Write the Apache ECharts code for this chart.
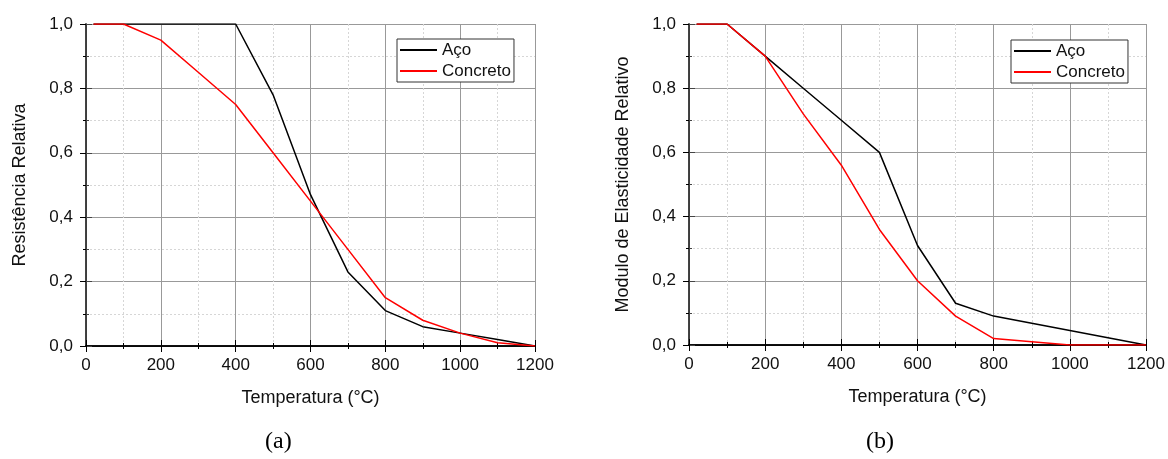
<!DOCTYPE html>
<html><head><meta charset="utf-8">
<script src="https://cdn.jsdelivr.net/npm/echarts@6/dist/echarts.min.js"></script>
<style>html,body{margin:0;padding:0;background:#fff}#c{width:1168px;height:459px}</style>
</head><body><div id="c"></div>
<script>
const temps = [20, 100, 200, 300, 400, 500, 600, 700, 800, 900, 1000, 1100, 1200];
const resAco = [1, 1, 1, 1, 1, 0.78, 0.47, 0.23, 0.11, 0.06, 0.04, 0.02, 0];
const resConcreto = [1, 1, 0.95, 0.85, 0.75, 0.60, 0.45, 0.30, 0.15, 0.08, 0.04, 0.01, 0];
const modAco = [1, 1, 0.9, 0.8, 0.7, 0.6, 0.31, 0.13, 0.09, 0.0675, 0.045, 0.0225, 0];
const modConcreto = [1, 1, 0.9, 0.72, 0.56, 0.36, 0.20, 0.09, 0.02, 0.01, 0, 0, 0];
const xTicks = [0, 200, 400, 600, 800, 1000, 1200];
const yTicks = ['0,0', '0,2', '0,4', '0,6', '0,8', '1,0'];
const seriesNames = ['Aço', 'Concreto'];
const yNames = ['Resistência Relativa', 'Modulo de Elasticidade Relativo'];
const xName = 'Temperatura (°C)';
const captions = ['(a)', '(b)'];

const FONT = 'Liberation Sans, Arial, sans-serif';
const pair = (xs, ys) => xs.map((x, i) => [x, ys[i]]);

function mainX(gi) {
  return {
    type: 'value', gridIndex: gi, min: 0, max: 1200, interval: 200, position: 'bottom',
    name: xName, nameLocation: 'middle', nameGap: 43,
    nameTextStyle: { fontFamily: FONT, fontSize: 18, color: '#111' },
    axisLine: { show: true, lineStyle: { color: '#000', width: 1.5 } },
    axisTick: { show: true, inside: false, length: 6, lineStyle: { color: '#000', width: 1 } },
    minorTick: { show: true, splitNumber: 2, length: 3, lineStyle: { color: '#000', width: 1 } },
    axisLabel: { fontFamily: FONT, fontSize: 17, color: '#111', margin: 11,
      formatter: v => xTicks.includes(v) ? String(v) : '' },
    splitLine: { show: true, lineStyle: { color: '#999', width: 1 } },
    minorSplitLine: { show: true, lineStyle: { color: '#d6d6d6', width: 1, type: [2, 2] } }
  };
}
function topX(gi) {
  return {
    type: 'value', gridIndex: gi, min: 0, max: 1200, interval: 200, position: 'top',
    axisLine: { show: true, lineStyle: { color: '#000', width: 1.5 } },
    axisTick: { show: true, inside: false, length: 6, lineStyle: { color: '#000', width: 1 } },
    minorTick: { show: true, splitNumber: 2, length: 3, lineStyle: { color: '#000', width: 1 } },
    axisLabel: { show: false }, splitLine: { show: false }
  };
}
function mainY(gi, name) {
  return {
    type: 'value', gridIndex: gi, min: 0, max: 1, interval: 0.2, position: 'left',
    name: name, nameLocation: 'middle', nameGap: 57, nameRotate: 90,
    nameTextStyle: { fontFamily: FONT, fontSize: 18, color: '#111' },
    axisLine: { show: true, lineStyle: { color: '#000', width: 1.5 } },
    axisTick: { show: true, inside: false, length: 6, lineStyle: { color: '#000', width: 1 } },
    minorTick: { show: true, splitNumber: 2, length: 3, lineStyle: { color: '#000', width: 1 } },
    axisLabel: { fontFamily: FONT, fontSize: 17, color: '#111', margin: 13,
      formatter: v => yTicks[Math.round(v / 0.2)] },
    splitLine: { show: true, lineStyle: { color: '#999', width: 1 } },
    minorSplitLine: { show: true, lineStyle: { color: '#d6d6d6', width: 1, type: [2, 2] } }
  };
}
function rightY(gi) {
  return {
    type: 'value', gridIndex: gi, min: 0, max: 1, interval: 0.2, position: 'right',
    axisLine: { show: true, lineStyle: { color: '#444', width: 1.5 } },
    axisTick: { show: true, inside: false, length: 6, lineStyle: { color: '#444', width: 1 } },
    minorTick: { show: true, splitNumber: 2, length: 3, lineStyle: { color: '#444', width: 1 } },
    axisLabel: { show: false }, splitLine: { show: false }
  };
}
function line(name, color, xi, yi, data) {
  return { type: 'line', name, xAxisIndex: xi, yAxisIndex: yi, data,
    symbol: 'none', showSymbol: false, smooth: false,
    lineStyle: { color, width: 1.5 }, itemStyle: { color }, z: 5, animation: false };
}
function legend(left, top) {
  return {
    left, top, orient: 'vertical', data: seriesNames, icon: 'rect',
    itemWidth: 37, itemHeight: 2, itemGap: 1,
    padding: [1, 3, 1, 3], borderColor: '#333', borderWidth: 1, backgroundColor: '#fff',
    textStyle: { fontFamily: FONT, fontSize: 17, color: '#111', lineHeight: 20, padding: [0, 0, 0, 0] },
    selectedMode: false
  };
}

const chart = echarts.init(document.getElementById('c'), null, { renderer: 'canvas' });
chart.setOption({
  animation: false,
  backgroundColor: '#fff',
  grid: [
    { left: 86, right: 633, top: 24, bottom: 113, outerBoundsMode: 'none', containLabel: false },
    { left: 689, right: 22, top: 24, bottom: 114, outerBoundsMode: 'none', containLabel: false }
  ],
  xAxis: [mainX(0), topX(0), mainX(1), topX(1)],
  yAxis: [mainY(0, yNames[0]), rightY(0), mainY(1, yNames[1]), rightY(1)],
  legend: [legend(397, 39), legend(1011, 40)],
  series: [
    line(seriesNames[0], '#000', 0, 0, pair(temps, resAco)),
    line(seriesNames[1], '#ff0000', 0, 0, pair(temps, resConcreto)),
    line(seriesNames[0], '#000', 2, 2, pair(temps, modAco)),
    line(seriesNames[1], '#ff0000', 2, 2, pair(temps, modConcreto))
  ],
  graphic: [
    { type: 'text', left: 265, top: 430, style: { text: captions[0], font: '24px "Liberation Serif", "Times New Roman", serif', fill: '#000' } },
    { type: 'text', left: 866, top: 430, style: { text: captions[1], font: '24px "Liberation Serif", "Times New Roman", serif', fill: '#000' } }
  ]
});
</script></body></html>
